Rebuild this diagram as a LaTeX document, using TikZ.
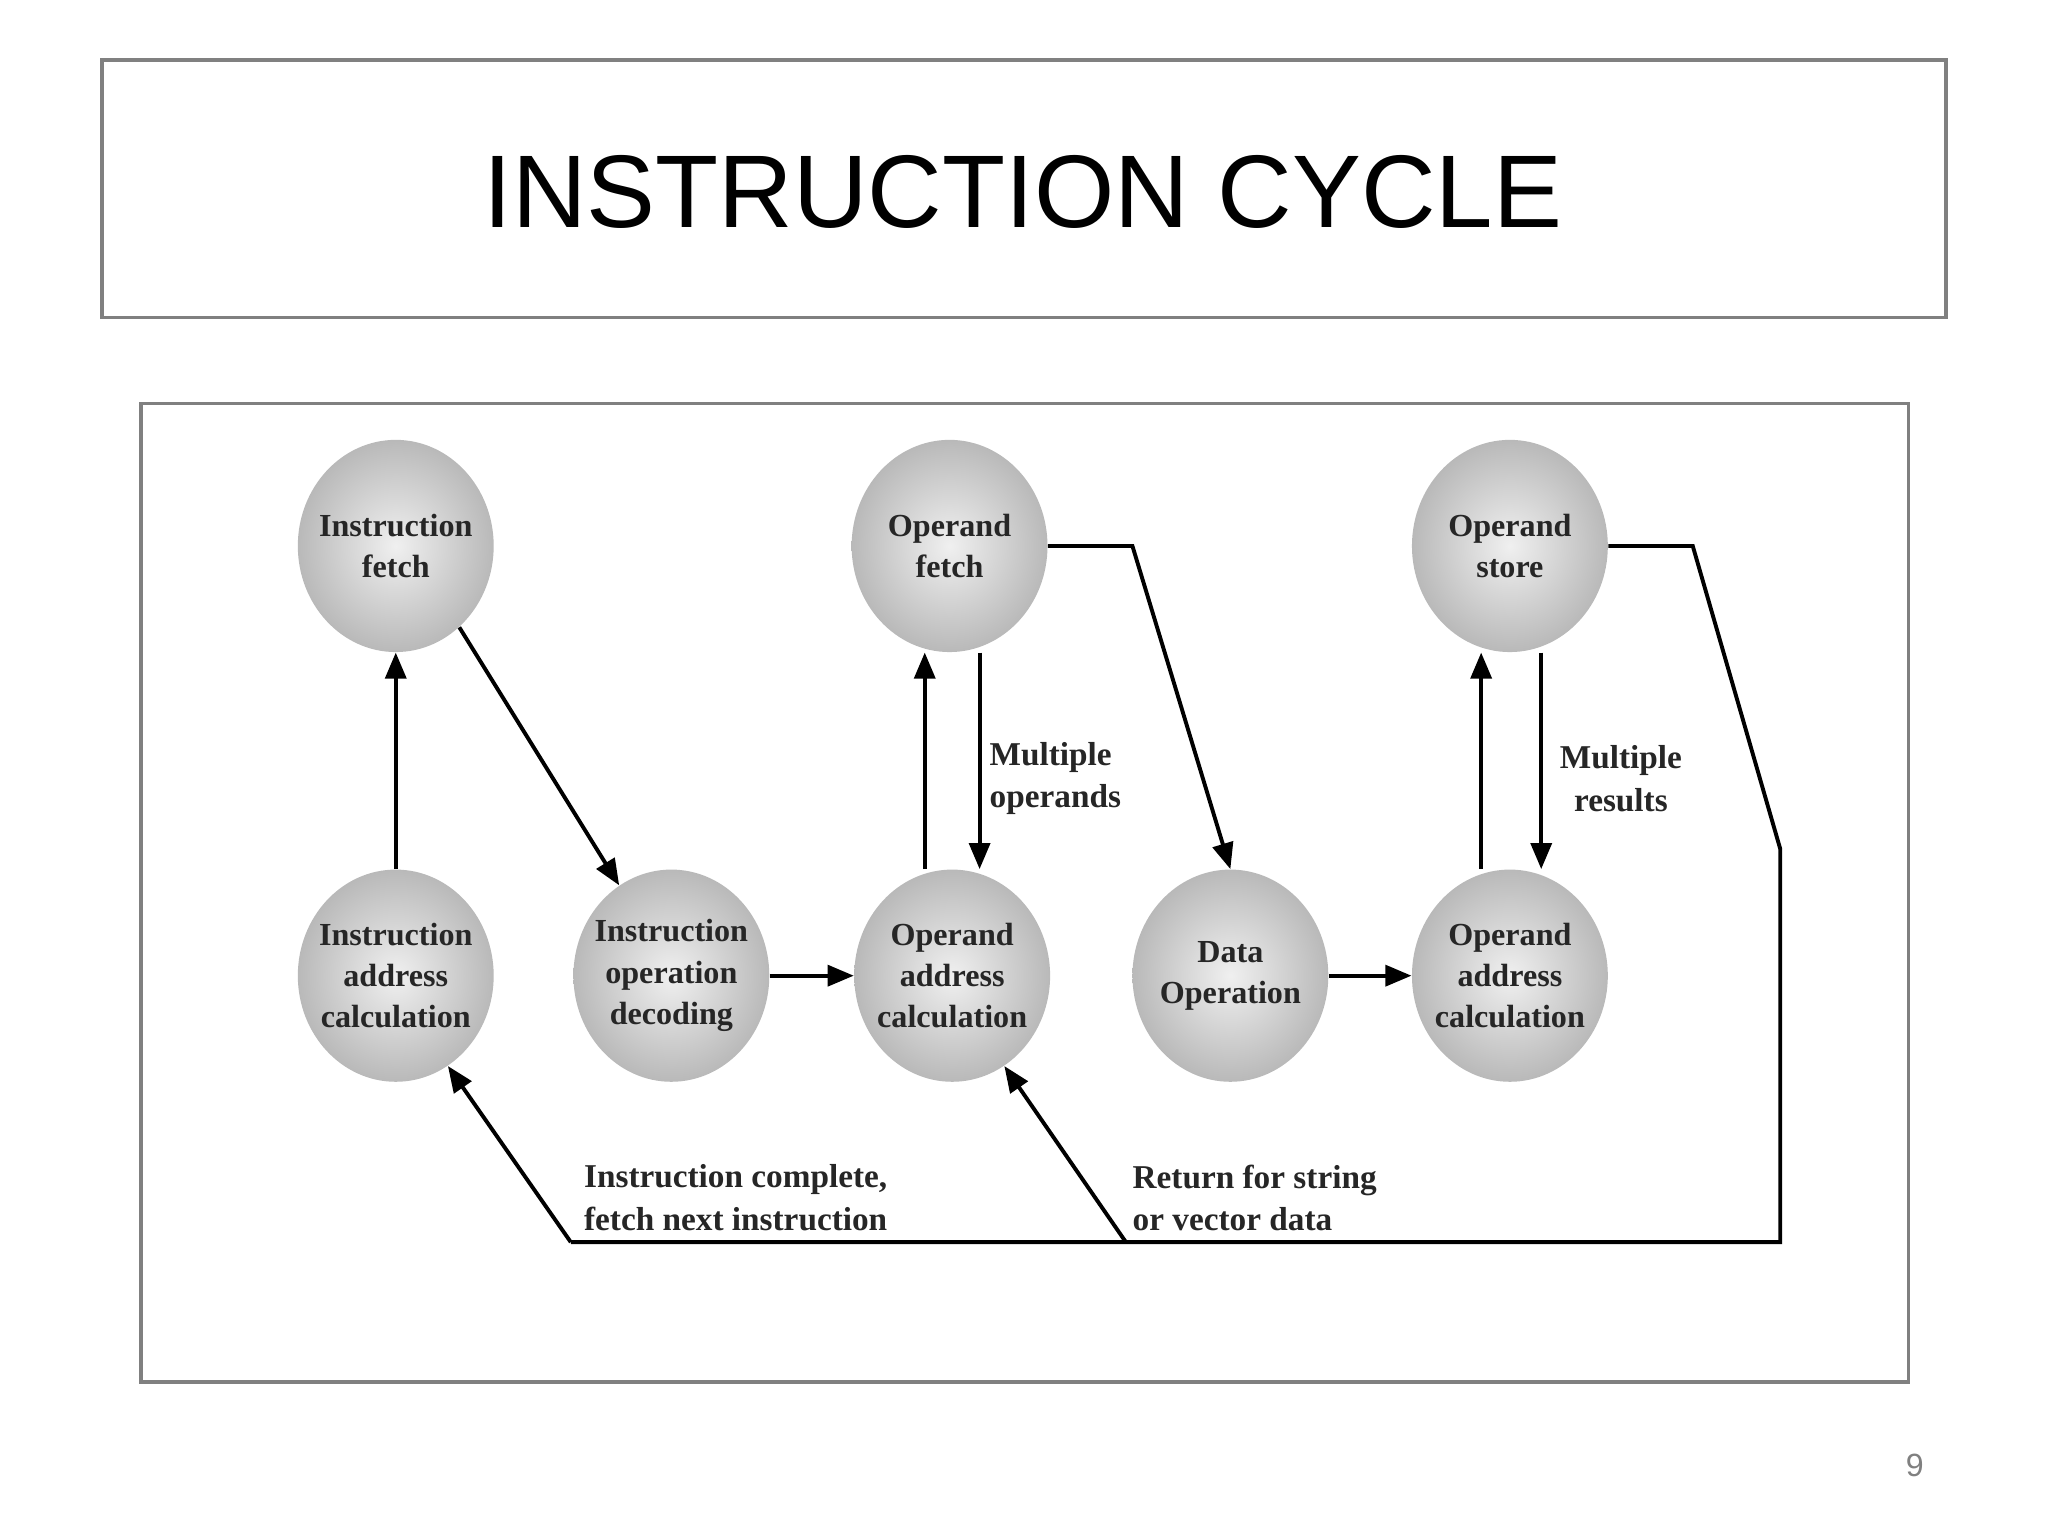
\documentclass[tikz,border=0pt]{standalone}
\usepackage{fontspec}
\setmainfont{Liberation Serif}
\newfontfamily\titlefont{Liberation Sans}
\usetikzlibrary{shapes.geometric,arrows.meta,positioning,calc}
\definecolor{frame}{RGB}{128,128,128}

\begin{document}
\begin{tikzpicture}[x=0.02cm,y=-0.02cm,
    stage/.style={ellipse, minimum width=3cm, minimum height=3.25cm, inner xsep=-14pt, inner ysep=0pt, align=center,
        inner color=gray!12, outer color=gray!55, font=\fontsize{14}{18}\selectfont\bfseries, text=black!85},
    arrow/.style={-{Triangle[length=4mm,width=3.2mm]}, line width=1.7pt},
    link/.style={line width=1.7pt},
    note/.style={font=\fontsize{14.5}{18.5}\selectfont\bfseries, align=left, text=black!85}
]
    \useasboundingbox (0,0) rectangle (1568,1176);
    % Frames
    \draw[frame, line width=1.5pt] (78,46) rectangle (1490,243);
    \node[font=\titlefont\fontsize{45}{54}\selectfont] (title) at (783,147) {INSTRUCTION CYCLE};
    \draw[frame, line width=1.5pt] (108,309) rectangle (1461,1058);

    % Stages
    \node[stage] (ifetch) at (303,418) {Instruction\\fetch};
    \node[stage] (ofetch) at (727,418) {Operand\\fetch};
    \node[stage] (ostore) at (1156,418) {Operand\\store};
    \node[stage] (iaddr) at (303,747) {Instruction\\address\\calculation};
    \node[stage] (idecode) at (514,747) {Instruction\\operation\\decoding};
    \node[stage] (oaddr) at (729,747) {Operand\\address\\calculation};
    \node[stage] (dataop) at (942,747) {Data\\Operation};
    \node[stage] (oaddrb) at (1156,747) {Operand\\address\\calculation};

    % Corners of the return path
    \coordinate (storeout) at (1296,418);
    \coordinate (rightbend) at (1363,650);
    \coordinate (rightfoot) at (1363,951);
    \coordinate (midfoot) at (862,951);
    \coordinate (leftfoot) at (437,951);

    % Arrows
    \draw[arrow] (iaddr) -- (ifetch);
    \draw[arrow] (ifetch.-52) -- (idecode.120);
    \draw[arrow] (idecode) -- (oaddr);
    \draw[arrow] ([xshift=-0.42cm]oaddr.north) -- ([xshift=-0.42cm]oaddr.north |- ofetch.south);
    \draw[arrow] ([xshift=0.46cm]ofetch.south) -- ([xshift=0.46cm]ofetch.south |- oaddr.north);
    \draw[arrow] (ofetch.east) -- (867,418) -- (dataop.north);
    \draw[arrow] (dataop) -- (oaddrb);
    \draw[arrow] ([xshift=-0.44cm]oaddrb.north) -- ([xshift=-0.44cm]oaddrb.north |- ostore.south);
    \draw[arrow] ([xshift=0.48cm]ostore.south) -- ([xshift=0.48cm]ostore.south |- oaddrb.north);
    \draw[link] (ostore.east) -- (storeout) -- (rightbend) -- (rightfoot) -- (leftfoot);
    \draw[arrow] (leftfoot) -- (iaddr.-60);
    \draw[arrow] (midfoot) -- (oaddr.-60);

    % Labels
    \node[note] (multop) at (808,596) {Multiple\\operands};
    \node[note, align=center] (multres) at (1241,596) {Multiple\\results};
    \node[note, anchor=west] (complete) at (441,917) {Instruction complete,\\fetch next instruction};
    \node[note, anchor=west] (strvec) at (861,917) {Return for string\\or vector data};
    \node[font=\titlefont\fontsize{14}{16}\selectfont, text=gray] (page) at (1466,1122) {9};
\end{tikzpicture}
\end{document}
